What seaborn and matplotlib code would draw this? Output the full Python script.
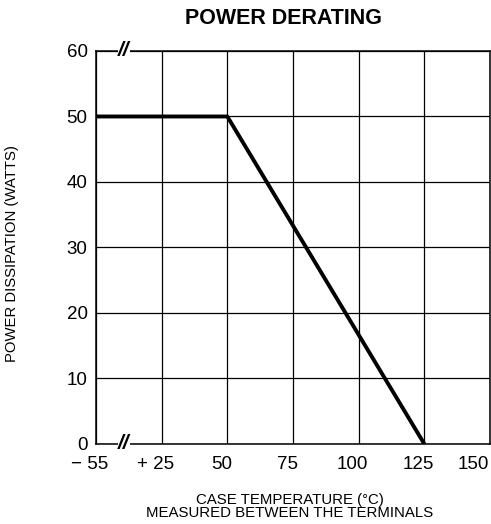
import matplotlib
matplotlib.use("Agg")
import matplotlib.pyplot as plt
import matplotlib.transforms as mtransforms
import seaborn as sns
import pandas as pd

# Data
tick_labels = ["\u2212 55", "+ 25", "50", "75", "100", "125", "150"]
tick_temps = [-55, 25, 50, 75, 100, 125, 150]
curve_temps = [-55, 50, 125]
curve_power = [50, 50, 0]
y_ticks = [0, 10, 20, 30, 40, 50, 60]

sns.set_theme(style="white")
plt.rcParams['font.family'] = ['Liberation Sans', 'DejaVu Sans']
plt.rcParams['text.color'] = 'black'
plt.rcParams['axes.labelcolor'] = 'black'

pos_of = {t: i for i, t in enumerate(tick_temps)}
df = pd.DataFrame({"pos": [pos_of[t] for t in curve_temps], "power": curve_power})

fig = plt.figure(figsize=(4.91, 5.24), dpi=100)
ax = fig.add_axes([0.1955, 0.1527, 0.8025, 0.75])

sns.lineplot(data=df, x="pos", y="power", ax=ax, color="black", linewidth=2.8,
             solid_capstyle="butt", zorder=5)

ax.set_xlim(0, len(tick_temps) - 1)
ax.set_ylim(0, 60)
ax.set_xticks(range(len(tick_temps)))
ax.set_xticklabels(tick_labels, fontsize=13.5)
ax.set_yticks(y_ticks)
ax.set_yticklabels([str(v) for v in y_ticks], fontsize=13.5)
ax.tick_params(axis="x", length=0, pad=9, colors="black")
ax.tick_params(axis="y", length=0, pad=6, colors="black")
# shift x tick labels slightly left as in the reference
labels = ax.get_xticklabels()
for i, lab in enumerate(labels):
    dx = -17 if i == len(labels) - 1 else -6
    offset = mtransforms.ScaledTranslation(dx / 100, 0, fig.dpi_scale_trans)
    lab.set_transform(lab.get_transform() + offset)
ax.grid(True, color="black", linewidth=0.9)
for s in ax.spines.values():
    s.set_color("black")
    s.set_linewidth(1.1)

ax.set_xlabel("CASE TEMPERATURE (\u00b0C)\nMEASURED BETWEEN THE TERMINALS",
              fontsize=10.8, linespacing=0.92)
ax.xaxis.set_label_coords(0.492, -0.125, transform=ax.transAxes)
ax.xaxis.label.set_va("top")
ax.set_ylabel("POWER DISSIPATION (WATTS)", fontsize=10.7)
ax.yaxis.set_label_coords(-0.195, 0.485, transform=ax.transAxes)

fig.text(0.578, 0.965, "POWER DERATING", ha="center", va="center",
         fontsize=15.5, fontweight="bold")

# axis break marks between -55 and +25
for yv in (0, 60):
    ax.text(0.42, yv, "//", ha="center", va="center", fontsize=15,
            fontweight="bold", style="italic", zorder=6,
            bbox=dict(facecolor="white", edgecolor="none", pad=0.2))

fig.savefig("out.png", dpi=100)
